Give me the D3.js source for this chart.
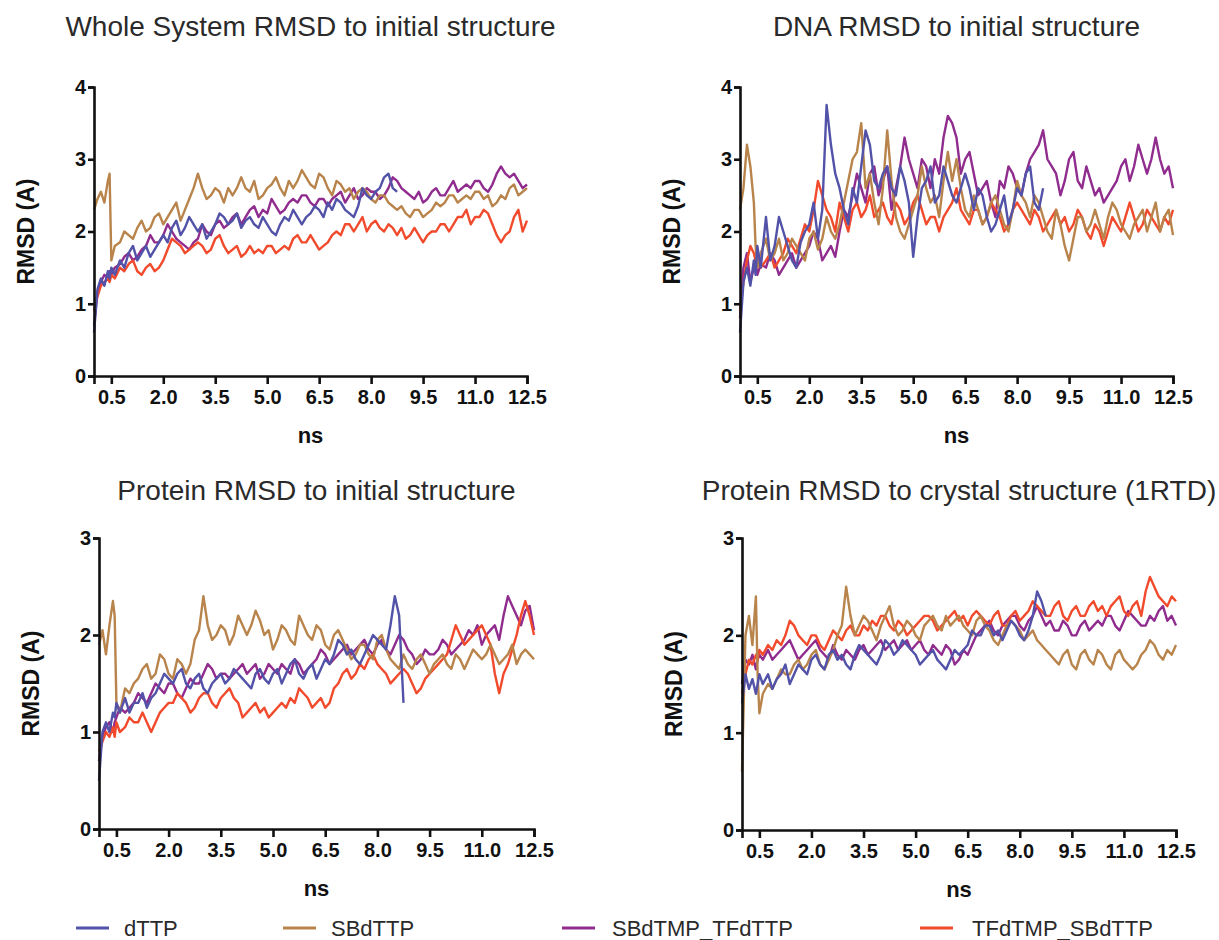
<!DOCTYPE html>
<html>
<head>
<meta charset="utf-8">
<script src="https://cdn.jsdelivr.net/npm/d3@7"></script>
<style>
  body { margin: 0; background: #fff; }
  svg { font-family: "Liberation Sans", Arial, sans-serif; }
</style>
</head>
<body>
<svg id="chart" width="1219" height="940"></svg>
<script>
// time points (ns), denser sampling at the start
const TIME = [0, 0.1, 0.2, 0.3, 0.4, 0.45, 0.5, 0.6, 0.75,
  0.875, 1, 1.125, 1.25, 1.375, 1.5, 1.625, 1.75, 1.875, 2, 2.125, 2.25, 2.375, 2.5, 2.625, 2.75,
  2.875, 3, 3.125, 3.25, 3.375, 3.5, 3.625, 3.75, 3.875, 4, 4.125, 4.25, 4.375, 4.5, 4.625, 4.75,
  4.875, 5, 5.125, 5.25, 5.375, 5.5, 5.625, 5.75, 5.875, 6, 6.125, 6.25, 6.375, 6.5, 6.625, 6.75,
  6.875, 7, 7.125, 7.25, 7.375, 7.5, 7.625, 7.75, 7.875, 8, 8.125, 8.25, 8.375, 8.5, 8.625, 8.75,
  8.875, 9, 9.125, 9.25, 9.375, 9.5, 9.625, 9.75, 9.875, 10, 10.125, 10.25, 10.375, 10.5, 10.625, 10.75,
  10.875, 11, 11.125, 11.25, 11.375, 11.5, 11.625, 11.75, 11.875, 12, 12.125, 12.25, 12.375, 12.5]

const SERIES = ['dTTP', 'SBdTTP', 'SBdTMP_TFdTTP', 'TFdTMP_SBdTTP']
const X_TICKS = [0.5, 2.0, 3.5, 5.0, 6.5, 8.0, 9.5, 11.0, 12.5]
const TITLES = ['Whole System RMSD to initial structure', 'DNA RMSD to initial structure',
  'Protein RMSD to initial structure', 'Protein RMSD to crystal structure (1RTD)']
const Y_MAX = [4, 4, 3, 3]

// whole system
const whole_dTTP = [0.6, 1.2, 1.35, 1.25, 1.45, 1.35, 1.5, 1.4, 1.6,
  1.5, 1.7, 1.8, 1.6, 1.7, 1.8, 1.65, 1.75, 1.85, 1.95, 1.85, 2.05, 2.15, 1.95, 2.05, 2.2,
  2.1, 2.0, 2.1, 1.9, 2.0, 2.1, 2.25, 2.2, 2.1, 2.15, 2.25, 2.05, 2.15, 2.2, 2.1, 2.05,
  2.2, 2.1, 2.0, 1.95, 2.1, 2.2, 2.15, 2.3, 2.2, 2.1, 2.2, 2.25, 2.35, 2.3, 2.2, 2.4,
  2.3, 2.45, 2.4, 2.3, 2.25, 2.2, 2.35, 2.6, 2.5, 2.45, 2.55, 2.6, 2.75, 2.8, 2.6, 2.55]
const whole_SBdTTP = [2.3, 2.45, 2.55, 2.4, 2.7, 2.8, 1.6, 1.8, 1.85,
  2.0, 1.95, 1.9, 2.05, 2.15, 2.0, 2.05, 2.2, 2.25, 2.1, 2.2, 2.3, 2.4, 2.15, 2.3, 2.45,
  2.6, 2.8, 2.6, 2.45, 2.5, 2.6, 2.55, 2.4, 2.6, 2.5, 2.6, 2.75, 2.6, 2.55, 2.7, 2.45,
  2.5, 2.6, 2.65, 2.75, 2.6, 2.5, 2.7, 2.6, 2.7, 2.85, 2.75, 2.65, 2.6, 2.8, 2.75, 2.6,
  2.5, 2.7, 2.65, 2.55, 2.6, 2.45, 2.55, 2.6, 2.55, 2.45, 2.4, 2.5, 2.5, 2.4, 2.35, 2.3,
  2.35, 2.25, 2.2, 2.3, 2.3, 2.2, 2.25, 2.3, 2.4, 2.35, 2.4, 2.5, 2.5, 2.4, 2.45, 2.5,
  2.45, 2.55, 2.55, 2.45, 2.5, 2.35, 2.4, 2.5, 2.45, 2.6, 2.65, 2.5, 2.55, 2.6]
const whole_SBdTMP = [0.7, 1.15, 1.3, 1.4, 1.35, 1.45, 1.4, 1.5, 1.55,
  1.65, 1.7, 1.6, 1.65, 1.75, 1.8, 1.95, 1.85, 1.85, 1.95, 2.1, 2.0, 1.9, 1.85, 1.8, 1.75,
  1.85, 1.9, 2.1, 2.0, 1.95, 2.1, 2.15, 2.05, 2.1, 2.2, 2.25, 2.1, 2.2, 2.3, 2.35, 2.2,
  2.3, 2.25, 2.45, 2.35, 2.25, 2.3, 2.4, 2.45, 2.4, 2.5, 2.5, 2.4, 2.35, 2.45, 2.45, 2.35,
  2.45, 2.5, 2.55, 2.4, 2.5, 2.6, 2.45, 2.5, 2.6, 2.55, 2.55, 2.45, 2.5, 2.6, 2.75, 2.7,
  2.6, 2.55, 2.5, 2.45, 2.55, 2.4, 2.45, 2.55, 2.6, 2.5, 2.5, 2.6, 2.7, 2.55, 2.6, 2.65,
  2.6, 2.7, 2.7, 2.6, 2.55, 2.65, 2.8, 2.9, 2.8, 2.75, 2.8, 2.7, 2.6, 2.65]
const whole_TFdTMP = [0.9, 1.1, 1.25, 1.3, 1.35, 1.3, 1.4, 1.35, 1.5,
  1.45, 1.55, 1.6, 1.45, 1.4, 1.5, 1.55, 1.45, 1.5, 1.6, 1.75, 1.9, 1.85, 1.8, 1.7, 1.75,
  1.8, 1.85, 1.8, 1.7, 1.75, 1.9, 1.95, 1.8, 1.7, 1.75, 1.8, 1.65, 1.7, 1.8, 1.7, 1.75,
  1.7, 1.8, 1.8, 1.7, 1.75, 1.8, 1.75, 1.9, 1.95, 1.85, 1.85, 1.95, 1.85, 1.75, 1.8, 1.85,
  1.95, 2.0, 1.95, 2.1, 2.1, 2.0, 2.1, 2.2, 2.0, 2.1, 2.15, 2.05, 2.0, 2.1, 2.05, 1.95,
  2.05, 1.9, 1.95, 2.05, 1.95, 1.85, 1.95, 2.0, 2.0, 2.1, 2.1, 2.0, 2.1, 2.2, 2.2, 2.3,
  2.1, 2.2, 2.2, 2.3, 2.25, 2.1, 1.95, 1.85, 1.95, 2.0, 2.2, 2.3, 2.0, 2.15]

// DNA
const dna_dTTP = [0.6, 1.3, 1.5, 1.25, 1.6, 1.4, 1.8, 1.5, 2.2,
  1.6, 1.8, 2.2, 2.0, 1.8, 1.6, 1.5, 1.85, 2.0, 2.1, 2.4, 1.9, 2.3, 3.75, 3.2, 2.8,
  2.6, 2.3, 2.1, 2.6, 2.4, 2.9, 3.4, 3.2, 2.7, 2.6, 2.8, 2.9, 2.6, 2.5, 2.9, 2.7,
  2.4, 1.65, 2.2, 2.6, 2.7, 2.9, 2.4, 2.5, 2.9, 2.7, 2.5, 2.4, 2.6, 2.8, 2.6, 2.3,
  2.6, 2.5, 2.2, 2.0, 2.1, 2.3, 2.5, 2.1, 2.3, 2.6, 2.5, 2.8, 2.9, 2.4, 2.3, 2.6]
const dna_SBdTTP = [2.3, 2.6, 3.2, 2.9, 2.4, 1.8, 1.5, 1.7, 1.9,
  1.6, 1.7, 1.9, 1.6, 1.7, 1.9, 1.8, 1.7, 1.6, 1.9, 2.0, 1.75, 1.9, 2.2, 2.0, 1.9,
  2.1, 2.4, 2.7, 3.0, 3.1, 3.5, 2.6, 2.8, 2.4, 2.1, 2.6, 3.4, 2.7, 2.2, 2.0, 1.9,
  2.1, 2.3, 2.5, 2.9, 2.6, 2.4, 2.5, 2.2, 2.7, 3.1, 2.7, 3.0, 2.6, 2.3, 2.2, 2.5,
  2.3, 2.1, 2.2, 2.4, 2.5, 2.3, 2.1, 2.0, 2.3, 2.7, 2.5, 2.4, 2.2, 2.5, 2.4, 2.2,
  2.0, 1.9, 2.3, 2.1, 1.8, 1.6, 1.9, 2.2, 2.2, 2.0, 2.1, 2.3, 2.1, 1.9, 2.2, 2.4,
  2.3, 2.1, 2.0, 1.9, 2.1, 2.2, 2.3, 2.0, 2.2, 2.4, 2.0, 2.2, 2.3, 1.95]
const dna_SBdTMP = [0.8, 1.5, 1.7, 1.3, 1.5, 1.6, 1.4, 1.55, 1.5,
  1.7, 1.6, 1.4, 1.5, 1.6, 1.7, 1.5, 1.6, 1.7, 1.8, 2.0, 1.9, 1.6, 1.7, 1.8, 1.65,
  2.0, 2.3, 2.2, 2.5, 2.8, 2.6, 2.4, 2.8, 2.9, 2.5, 2.7, 2.9, 2.3, 2.6, 2.9, 3.3,
  3.0, 2.8, 2.6, 3.0, 2.9, 2.6, 3.0, 2.8, 3.3, 3.6, 3.5, 3.3, 2.8, 3.0, 3.1, 2.8,
  2.5, 2.6, 2.7, 2.4, 2.2, 2.7, 2.6, 2.9, 2.8, 2.6, 2.5, 2.8, 3.0, 3.1, 3.2, 3.4,
  3.0, 2.9, 2.8, 2.5, 2.7, 3.0, 3.1, 2.7, 2.6, 2.9, 2.7, 2.5, 2.6, 2.4, 2.5, 2.6,
  2.7, 2.9, 3.0, 2.7, 2.9, 3.2, 3.0, 2.8, 3.0, 3.3, 3.0, 2.8, 2.9, 2.6]
const dna_TFdTMP = [0.9, 1.3, 1.6, 1.8, 1.7, 1.6, 1.75, 1.5, 1.6,
  1.7, 1.5, 1.6, 1.7, 1.9, 1.8, 1.7, 1.9, 2.1, 2.0, 2.3, 2.7, 2.5, 2.3, 2.2, 2.0,
  2.4, 2.2, 2.0, 2.3, 2.4, 2.2, 2.3, 2.5, 2.2, 2.3, 2.4, 2.2, 2.1, 2.4, 2.3, 2.1,
  2.2, 2.4, 2.5, 2.3, 2.1, 2.2, 2.2, 2.0, 2.2, 2.3, 2.4, 2.6, 2.3, 2.2, 2.1, 2.3,
  2.3, 2.1, 2.2, 2.4, 2.3, 2.2, 2.0, 2.1, 2.3, 2.4, 2.3, 2.2, 2.1, 2.3, 2.2, 2.0,
  2.1, 2.2, 2.3, 2.1, 2.2, 2.0, 2.1, 2.3, 2.2, 2.0, 1.9, 2.1, 2.0, 1.8, 2.0, 2.2,
  2.1, 2.0, 2.2, 2.4, 2.2, 2.0, 2.1, 2.3, 2.2, 2.1, 2.0, 2.2, 2.1, 2.3]

// protein vs initial
const protInit_dTTP = [0.5, 1.0, 1.1, 1.0, 1.2, 1.15, 1.3, 1.2, 1.35,
  1.2, 1.3, 1.3, 1.4, 1.25, 1.35, 1.4, 1.5, 1.6, 1.55, 1.5, 1.6, 1.65, 1.5, 1.45, 1.55,
  1.6, 1.45, 1.4, 1.5, 1.55, 1.6, 1.5, 1.55, 1.65, 1.6, 1.55, 1.5, 1.45, 1.6, 1.65, 1.55,
  1.5, 1.6, 1.65, 1.5, 1.6, 1.7, 1.75, 1.6, 1.55, 1.65, 1.7, 1.55, 1.65, 1.75, 1.7, 1.8,
  1.95, 1.9, 1.8, 1.85, 1.75, 1.7, 1.8, 1.9, 2.0, 1.95, 1.9, 1.85, 2.1, 2.4, 2.2, 1.3]
const protInit_SBdTTP = [1.9, 2.05, 1.8, 2.1, 2.35, 2.2, 1.3, 1.2, 1.45,
  1.4, 1.5, 1.55, 1.65, 1.7, 1.55, 1.6, 1.8, 1.75, 1.6, 1.55, 1.75, 1.7, 1.6, 1.7, 1.95,
  2.05, 2.4, 2.1, 1.95, 2.0, 2.1, 2.05, 1.9, 2.0, 2.2, 2.1, 2.0, 2.1, 2.25, 2.15, 2.0,
  2.05, 1.85, 1.95, 2.1, 2.05, 1.95, 1.9, 2.2, 2.1, 2.0, 1.95, 2.1, 2.05, 1.9, 1.85, 2.0,
  2.05, 1.95, 1.85, 1.75, 1.8, 1.9, 1.9, 1.8, 1.75, 1.95, 2.0, 1.85, 1.75, 1.7, 1.65, 1.8,
  1.7, 1.65, 1.75, 1.8, 1.7, 1.6, 1.7, 1.75, 1.8, 1.7, 1.65, 1.8, 1.75, 1.65, 1.75, 1.85,
  1.8, 1.75, 1.8, 1.9, 1.8, 1.7, 1.75, 1.8, 1.9, 1.7, 1.8, 1.85, 1.8, 1.75]
const protInit_SBdTMP = [0.7, 0.95, 1.05, 1.1, 1.0, 1.1, 1.15, 1.25, 1.2,
  1.25, 1.3, 1.4, 1.35, 1.3, 1.4, 1.5, 1.45, 1.4, 1.5, 1.5, 1.4, 1.35, 1.45, 1.55, 1.5,
  1.5, 1.6, 1.7, 1.65, 1.55, 1.6, 1.6, 1.55, 1.6, 1.65, 1.7, 1.6, 1.65, 1.7, 1.55, 1.6,
  1.7, 1.65, 1.6, 1.7, 1.65, 1.6, 1.75, 1.7, 1.6, 1.65, 1.7, 1.75, 1.85, 1.8, 1.7, 1.75,
  1.8, 1.85, 1.9, 1.8, 1.85, 1.9, 1.95, 1.85, 1.8, 1.9, 1.95, 1.85, 1.8, 1.9, 2.0, 1.95,
  1.85, 1.8, 1.7, 1.75, 1.85, 1.8, 1.8, 1.85, 1.95, 1.9, 1.8, 1.85, 1.9, 1.95, 2.05, 2.0,
  2.1, 1.9, 2.0, 2.05, 2.1, 1.95, 2.2, 2.4, 2.3, 2.2, 2.1, 2.25, 2.3, 2.05]
const protInit_TFdTMP = [0.8, 0.9, 1.0, 0.95, 1.05, 0.95, 1.1, 1.0, 1.05,
  1.15, 1.1, 1.1, 1.2, 1.1, 1.0, 1.1, 1.2, 1.25, 1.3, 1.3, 1.4, 1.35, 1.3, 1.2, 1.25,
  1.35, 1.4, 1.4, 1.3, 1.25, 1.35, 1.4, 1.45, 1.35, 1.3, 1.15, 1.2, 1.25, 1.3, 1.2, 1.25,
  1.15, 1.2, 1.25, 1.3, 1.25, 1.35, 1.3, 1.45, 1.4, 1.35, 1.25, 1.3, 1.35, 1.25, 1.3, 1.45,
  1.5, 1.6, 1.65, 1.55, 1.6, 1.7, 1.65, 1.75, 1.8, 1.7, 1.65, 1.6, 1.5, 1.55, 1.6, 1.65,
  1.6, 1.5, 1.4, 1.45, 1.55, 1.6, 1.65, 1.7, 1.75, 1.8, 1.95, 2.1, 2.0, 1.9, 1.95, 2.0,
  2.05, 2.1, 2.0, 1.9, 1.6, 1.4, 1.6, 1.7, 1.85, 2.0, 2.2, 2.35, 2.2, 2.0]

// protein vs crystal
const protCryst_dTTP = [1.3, 1.6, 1.45, 1.55, 1.4, 1.5, 1.6, 1.5, 1.6,
  1.45, 1.55, 1.6, 1.7, 1.5, 1.6, 1.7, 1.65, 1.6, 1.75, 1.8, 1.7, 1.65, 1.8, 1.85, 1.75,
  1.8, 1.7, 1.65, 1.8, 1.9, 1.85, 1.8, 1.75, 1.7, 1.8, 1.95, 1.9, 1.8, 1.85, 1.95, 1.9,
  1.85, 1.8, 1.7, 1.75, 1.8, 1.85, 1.75, 1.7, 1.65, 1.75, 1.85, 1.8, 1.85, 1.9, 2.05, 2.0,
  2.0, 2.1, 2.1, 2.0, 2.05, 1.95, 2.05, 2.15, 2.1, 2.0, 1.95, 2.05, 2.2, 2.45, 2.35, 2.2]
const protCryst_SBdTTP = [0.6, 2.0, 2.2, 1.9, 2.4, 1.6, 1.2, 1.4, 1.5,
  1.45, 1.55, 1.65, 1.6, 1.6, 1.7, 1.75, 1.65, 1.7, 1.8, 1.85, 1.7, 1.65, 1.75, 1.85, 2.0,
  2.1, 2.5, 2.2, 2.0, 2.1, 2.2, 2.15, 2.05, 1.95, 2.1, 2.2, 2.3, 2.1, 2.0, 2.05, 2.15,
  2.1, 2.0, 1.95, 2.1, 2.15, 2.2, 2.1, 2.05, 2.2, 2.1, 2.15, 2.2, 2.1, 2.05, 2.0, 2.15,
  2.2, 2.1, 2.05, 1.95, 1.9, 2.0, 2.1, 2.15, 2.1, 2.05, 1.95, 2.0, 2.05, 1.95, 1.9, 1.85,
  1.8, 1.75, 1.7, 1.8, 1.85, 1.7, 1.65, 1.8, 1.85, 1.75, 1.7, 1.85, 1.8, 1.7, 1.65, 1.8,
  1.85, 1.75, 1.7, 1.65, 1.7, 1.8, 1.85, 1.95, 1.9, 1.8, 1.75, 1.85, 1.8, 1.9]
const protCryst_SBdTMP = [1.5, 1.75, 1.7, 1.8, 1.65, 1.75, 1.8, 1.75, 1.85,
  1.75, 1.8, 1.85, 1.9, 1.95, 1.85, 1.75, 1.8, 1.85, 1.9, 1.95, 1.85, 1.8, 1.75, 1.9, 1.8,
  1.75, 1.85, 1.8, 1.75, 1.85, 1.9, 1.8, 1.85, 1.9, 1.95, 1.85, 1.9, 1.95, 1.85, 1.9, 1.95,
  1.85, 1.9, 1.95, 1.85, 1.8, 1.9, 1.85, 1.8, 1.9, 1.85, 1.7, 1.75, 1.85, 1.8, 1.9, 2.0,
  2.05, 2.1, 2.15, 2.05, 2.0, 2.1, 2.15, 2.2, 2.2, 2.1, 2.05, 2.15, 2.2, 2.3, 2.2, 2.1,
  2.15, 2.05, 2.05, 2.15, 2.1, 2.0, 2.0, 2.1, 2.15, 2.05, 2.1, 2.15, 2.1, 2.2, 2.2, 2.1,
  2.05, 2.15, 2.25, 2.2, 2.15, 2.1, 2.1, 2.2, 2.15, 2.25, 2.3, 2.15, 2.2, 2.1]
const protCryst_TFdTMP = [1.4, 1.6, 1.75, 1.7, 1.8, 1.75, 1.85, 1.8, 1.9,
  1.85, 1.95, 1.9, 2.0, 2.15, 2.1, 2.0, 1.95, 1.9, 2.0, 2.0, 1.9, 1.85, 1.95, 2.05, 2.0,
  1.95, 2.05, 2.1, 2.0, 2.0, 2.1, 2.05, 2.15, 2.1, 2.2, 2.2, 2.1, 2.05, 2.15, 2.1, 2.0,
  2.05, 2.1, 2.15, 2.2, 2.2, 2.15, 2.05, 2.1, 2.15, 2.2, 2.25, 2.15, 2.2, 2.1, 2.2, 2.25,
  2.2, 2.15, 2.1, 2.2, 2.25, 2.1, 2.1, 2.2, 2.25, 2.15, 2.2, 2.25, 2.35, 2.3, 2.25, 2.2,
  2.2, 2.3, 2.35, 2.2, 2.15, 2.25, 2.3, 2.2, 2.2, 2.3, 2.35, 2.25, 2.3, 2.2, 2.3, 2.35,
  2.4, 2.25, 2.2, 2.3, 2.35, 2.2, 2.45, 2.6, 2.5, 2.4, 2.35, 2.3, 2.4, 2.35]

// order of series per panel follows SERIES
const PANEL_DATA = [
  [whole_dTTP, whole_SBdTTP, whole_SBdTMP, whole_TFdTMP],
  [dna_dTTP, dna_SBdTTP, dna_SBdTMP, dna_TFdTMP],
  [protInit_dTTP, protInit_SBdTTP, protInit_SBdTMP, protInit_TFdTMP],
  [protCryst_dTTP, protCryst_SBdTTP, protCryst_SBdTMP, protCryst_TFdTMP]
]

const colors = ['#5252a8', '#b8844c', '#902c8e', '#f14a2c']
const drawOrder = [2, 3, 1, 0]

// plot boxes [left, right, top, bottom]
const boxes = [
  [94, 527, 87, 376],
  [740, 1173, 87, 376],
  [99, 534, 538, 829],
  [742, 1176, 538, 830]
]
const titleY = [36, 36, 500, 500]

let svg = d3.select('#chart')

boxes.forEach(([l, r, t, b], i) => {
  let x = d3.scaleLinear().domain([0, 12.5]).range([l, r])
  let y = d3.scaleLinear().domain([0, Y_MAX[i]]).range([b, t])
  let g = svg.append('g')

  g.append('text')
    .attr('x', (l + r) / 2)
    .attr('y', titleY[i])
    .attr('text-anchor', 'middle')
    .style('font-size', '28px')
    .style('fill', '#2a2a2a')
    .text(TITLES[i])

  let line = d3.line()
    .x((d, k) => x(TIME[k]))
    .y(d => y(d))

  drawOrder.forEach(s => {
    g.append('path')
      .datum(PANEL_DATA[i][s])
      .attr('d', line)
      .attr('fill', 'none')
      .attr('stroke', colors[s])
      .attr('stroke-width', 2.4)
      .attr('stroke-linejoin', 'round')
  })

  let xAxis = g.append('g')
    .attr('transform', `translate(0,${b})`)
    .call(d3.axisBottom(x).tickValues(X_TICKS).tickFormat(d3.format('.1f')).tickSizeOuter(0).tickSize(8).tickPadding(6))
  let yAxis = g.append('g')
    .attr('transform', `translate(${l},0)`)
    .call(d3.axisLeft(y).ticks(Y_MAX[i]).tickFormat(d3.format('d')).tickSizeOuter(0).tickSize(6).tickPadding(2))

  ;[xAxis, yAxis].forEach(a => {
    a.select('.domain').attr('stroke', '#111').attr('stroke-width', 2.6)
    a.selectAll('.tick line').attr('stroke', '#111').attr('stroke-width', 2.6)
    a.selectAll('.tick text')
      .style('font-size', '20px')
      .style('font-weight', 'bold')
      .style('font-family', '"Liberation Sans", Arial, sans-serif')
      .attr('fill', '#111')
  })

  g.append('text')
    .attr('x', (l + r) / 2)
    .attr('y', b + 67)
    .attr('text-anchor', 'middle')
    .style('font-size', '22px')
    .style('font-weight', 'bold')
    .style('fill', '#111')
    .text('ns')

  g.append('text')
    .attr('transform', `translate(${l - 68},${(t + b) / 2}) rotate(-90)`)
    .attr('text-anchor', 'middle')
    .attr('dy', '0.35em')
    .style('font-size', '23px')
    .style('font-weight', 'bold')
    .style('fill', '#111')
    .text('RMSD (A)')
})

// legend
const legendX = [76, 283, 562, 920]
let legend = svg.append('g').selectAll('g')
  .data(SERIES)
  .enter()
  .append('g')
  .attr('transform', (d, i) => `translate(${legendX[i]},928)`)
legend.append('line')
  .attr('x1', 0).attr('x2', 33)
  .attr('stroke', (d, i) => colors[i])
  .attr('stroke-width', 3)
legend.append('text')
  .attr('x', (d, i) => i == 3 ? 52 : i == 2 ? 50 : 48)
  .attr('y', 8)
  .style('font-size', '22px')
  .style('fill', '#2a2a2a')
  .text(d => d)
</script>
</body>
</html>
